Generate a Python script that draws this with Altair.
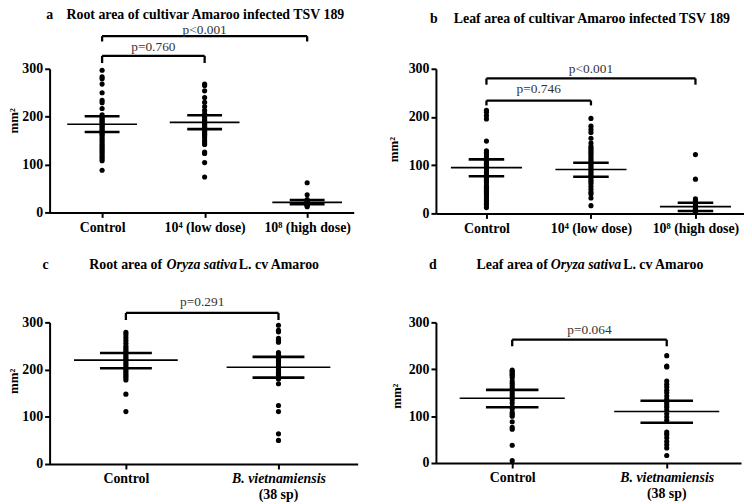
import altair as alt
import pandas as pd

FONT = "Liberation Serif"

# ---------------- data ----------------
# Panel a: root area, TSV 189
a_cats = ["Control", "10⁴ (low dose)", "10⁸ (high dose)"]
a_control = [297, 283, 279, 268, 250, 234, 229, 217, 204, 199, 196, 193, 190, 187, 184, 181, 178, 175,
             172, 169, 166, 163, 160, 156, 152, 148, 144, 140, 136, 132, 128, 124, 120, 116, 112, 108, 88]
a_low = [268, 265, 254, 240, 230, 221, 213, 206, 201, 197, 193, 190, 187, 184, 181, 178, 175, 172, 169,
         166, 163, 160, 156, 150, 146, 142, 126, 123, 104, 74]
a_high = [62, 37, 27, 24, 22, 21, 20, 19, 18, 17, 16, 15, 14, 12]
a_mean = [184, 188, 21]
a_lo = [168, 174, 17]
a_hi = [201, 203, 26]
a_pvals = ["p<0.001", "p=0.760"]

# Panel b: leaf area, TSV 189
b_cats = ["Control", "10⁴ (low dose)", "10⁸ (high dose)"]
b_control = [214, 210, 203, 196, 150, 130, 126, 121, 117, 112, 108, 104, 100, 96, 92, 88, 84, 80, 76, 72,
             68, 64, 58, 54, 50, 46, 42, 38, 34, 30, 26, 22, 18, 12]
b_low = [197, 181, 174, 168, 156, 146, 139, 135, 131, 127, 123, 119, 115, 111, 107, 103, 99, 95, 91, 87,
         83, 79, 75, 70, 66, 62, 56, 50, 44, 40, 32, 16]
b_high = [122, 71, 30, 27, 24, 20, 15, 12, 10, 8, 7, 6, 5, 4, 3, 2]
b_mean = [95, 91, 14]
b_lo = [77, 76, 5]
b_hi = [112, 105, 22]
b_pvals = ["p<0.001", "p=0.746"]

# Panel c: root area, B. vietnamiensis
c_cats = ["Control", "B. vietnamiensis"]
c_control = [279, 274, 268, 262, 256, 250, 246, 242, 238, 234, 230, 226, 222, 218, 214, 210, 206, 202,
             198, 194, 190, 186, 182, 178, 148, 111]
c_bviet = [294, 283, 280, 266, 262, 258, 236, 232, 228, 224, 220, 216, 212, 208, 204, 200, 196, 192, 188,
           184, 180, 170, 124, 111, 64, 50]
c_mean = [220, 205]
c_lo = [203, 183]
c_hi = [235, 227]
c_pvals = ["p=0.291"]

# Panel d: leaf area, B. vietnamiensis
d_cats = ["Control", "B. vietnamiensis"]
d_control = [198, 195, 192, 189, 186, 182, 175, 170, 165, 160, 156, 150, 145, 140, 135, 128, 120, 116,
             108, 104, 100, 88, 76, 72, 38, 5]
d_bviet = [229, 207, 205, 175, 168, 162, 155, 150, 143, 136, 129, 124, 119, 113, 105, 98, 91, 66, 61, 54,
           46, 39, 32, 16]
d_mean = [138, 110]
d_lo = [119, 86]
d_hi = [156, 133]
d_pvals = ["p=0.064"]

ONE = pd.DataFrame({"k": [0]})
TITLE_SIZE = 14


def text_piece(txt, px, py, style="normal", align="left"):
    return alt.Chart(ONE).mark_text(
        text=txt, align=align, baseline="middle", font=FONT, fontSize=TITLE_SIZE,
        fontWeight="bold", fontStyle=style, color="black"
    ).encode(x=alt.value(px), y=alt.value(py))


def panel(cats, groups, means, los, his, width, height, xdom, brackets, ptexts,
          title_pieces, ytitle_x, ytitle_y, italic_idx=None, sub_label=None):
    xscale = alt.Scale(domain=xdom, nice=False, zero=False)
    yscale = alt.Scale(domain=[0, 300], nice=False)
    label_arr = "[" + ",".join("'" + c + "'" for c in cats) + "]"
    xaxis_kw = dict(
        values=list(range(len(cats))), labelExpr=label_arr + "[datum.value]", title=None,
        grid=False, domainColor="black", domainWidth=2, tickColor="black", tickWidth=2,
        tickSize=5, labelFont=FONT, labelFontSize=14, labelFontWeight="bold",
        labelColor="black", labelPadding=3, labelFlush=False, labelOverlap=False,
    )
    if italic_idx is not None:
        xaxis_kw["labelFontStyle"] = {"condition": {"test": f"datum.value == {italic_idx}",
                                                    "value": "italic"}, "value": "normal"}
    xaxis = alt.Axis(**xaxis_kw)
    yaxis = alt.Axis(
        values=[0, 100, 200, 300], title="mm²", titleFont=FONT, titleFontSize=13,
        titleFontWeight="bold", titleColor="black", titleX=ytitle_x, titleY=ytitle_y,
        titleAngle=270, titleAlign="center", titleBaseline="middle", grid=False,
        domainColor="black", domainWidth=2, tickColor="black", tickWidth=2, tickSize=5,
        labelFont=FONT, labelFontSize=14, labelFontWeight="bold", labelColor="black",
        labelPadding=2,
    )

    def X(f):
        return alt.X(f"{f}:Q", scale=xscale, axis=xaxis)

    def Y(f):
        return alt.Y(f"{f}:Q", scale=yscale, axis=yaxis)

    rows = []
    for i, vals in enumerate(groups):
        for v in vals:
            rows.append({"idx": i, "value": v})
    pts = alt.Chart(pd.DataFrame(rows)).mark_circle(size=27, color="black", opacity=1).encode(
        x=X("idx"), y=Y("value"))

    stats = pd.DataFrame({"idx": list(range(len(cats))), "mean": means, "lo": los, "hi": his})
    base = alt.Chart(stats).transform_calculate(
        ml="datum.idx - 0.34", mr="datum.idx + 0.34",
        cl="datum.idx - 0.17", cr="datum.idx + 0.17")
    mean_rule = base.mark_rule(color="black", strokeWidth=1.6).encode(
        x=X("ml"), x2="mr:Q", y=Y("mean"))
    lo_rule = base.mark_rule(color="black", strokeWidth=2.6).encode(
        x=X("cl"), x2="cr:Q", y=Y("lo"))
    hi_rule = base.mark_rule(color="black", strokeWidth=2.6).encode(
        x=X("cl"), x2="cr:Q", y=Y("hi"))

    seg = []
    for (i1, i2, ytop, ydrop) in brackets:
        seg.append({"x1": i1, "x2": i2, "y1": ytop, "y2": ytop})
        seg.append({"x1": i1, "x2": i1, "y1": ytop, "y2": ydrop})
        seg.append({"x1": i2, "x2": i2, "y1": ytop, "y2": ydrop})
    br = alt.Chart(pd.DataFrame(seg)).mark_rule(color="black", strokeWidth=2.3).encode(
        x=X("x1"), x2="x2:Q", y=Y("y1"), y2="y2:Q")

    pt = alt.Chart(pd.DataFrame(ptexts)).mark_text(
        font=FONT, fontSize=13.5, baseline="middle", align="center"
    ).encode(x=X("xm"), y=Y("ym"), text="label:N", color=alt.value("#333333"))

    layers = [br, pt, mean_rule, lo_rule, hi_rule, pts]
    for (txt, px, py, style, align) in title_pieces:
        layers.append(text_piece(txt, px, py, style=style, align=align))
    if sub_label is not None:
        sub = alt.Chart(pd.DataFrame({"idx": [italic_idx], "label": [sub_label]})).mark_text(
            font=FONT, fontSize=14, fontWeight="bold", baseline="middle"
        ).encode(x=X("idx"), text="label:N", y=alt.value(height + 31),
                 color=alt.value("black"))
        layers.append(sub)
    return alt.layer(*layers).properties(width=width, height=height)


pa = panel(a_cats, [a_control, a_low, a_high], a_mean, a_lo, a_hi, 307, 145,
           [-0.512, 2.454],
           [(0, 2, 368, 357), (0, 1, 327, 312)],
           [{"xm": 1, "ym": 380, "label": a_pvals[0]}, {"xm": 0.5, "ym": 345, "label": a_pvals[1]}],
           [("a", 0, -54, "normal", "center"),
            ("Root area of cultivar Amaroo infected TSV 189", 17, -54, "normal", "left")],
           -36, 52)

pb = panel(b_cats, [b_control, b_low, b_high], b_mean, b_lo, b_hi, 311, 146,
           [-0.4834, 2.4645],
           [(0, 2, 280, 267), (0, 1, 234, 224)],
           [{"xm": 1, "ym": 300, "label": b_pvals[0]}, {"xm": 0.5, "ym": 257, "label": b_pvals[1]}],
           [("b", -2, -50, "normal", "center"),
            ("Leaf area of cultivar Amaroo infected TSV 189", 18, -50, "normal", "left")],
           -43, 81)

pc = panel(c_cats, [c_control, c_bviet], c_mean, c_lo, c_hi, 311, 143,
           [-0.5, 1.519],
           [(0, 1, 320, 305)],
           [{"xm": 0.5, "ym": 342, "label": c_pvals[0]}],
           [("c", -4, -58, "normal", "center"),
            ("Root area of", 40, -58, "normal", "left"),
            ("Oryza sativa", 118, -58, "italic", "left"),
            ("L. cv Amaroo", 191, -58, "normal", "left")],
           -36, 59, italic_idx=1, sub_label="(38 sp)")

pd_ = panel(d_cats, [d_control, d_bviet], d_mean, d_lo, d_hi, 308, 142,
            [-0.4936, 1.4808],
            [(0, 1, 263, 249)],
            [{"xm": 0.5, "ym": 284, "label": d_pvals[0]}],
            [("d", -3, -58, "normal", "center"),
             ("Leaf area of", 41, -58, "normal", "left"),
             ("Oryza sativa", 116, -58, "italic", "left"),
             ("L. cv Amaroo", 189, -58, "normal", "left")],
            -40, 74, italic_idx=1, sub_label="(38 sp)")

chart = alt.concat(
    pa, pb, pc, pd_, columns=2, spacing={"row": 110, "column": 79},
    align="none", bounds="flush"
).properties(
    padding={"top": -2, "left": 0, "right": 0, "bottom": 0}, background="white"
).configure_view(stroke=None)

chart.save("out.html", embed_options={"renderer": "svg", "actions": False})
